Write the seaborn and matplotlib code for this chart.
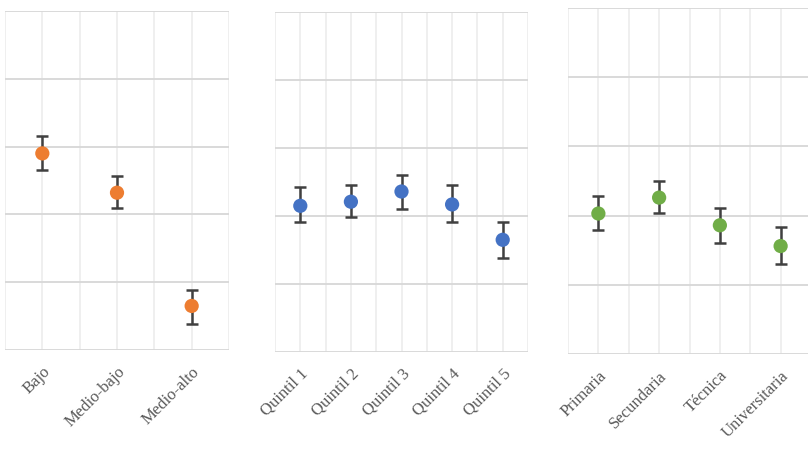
import matplotlib
matplotlib.use("Agg")
import matplotlib.pyplot as plt
import seaborn as sns
import numpy as np
import pandas as pd

# Panel 1: nivel socioeconómico
cat1 = ["Bajo", "Medio-bajo", "Medio-alto"]
val1 = [2.90, 2.32, 0.65]
lo1 = [2.66, 2.09, 0.38]
hi1 = [3.15, 2.56, 0.89]

# Panel 2: quintiles
cat2 = ["Quintil 1", "Quintil 2", "Quintil 3", "Quintil 4", "Quintil 5"]
val2 = [2.15, 2.21, 2.36, 2.17, 1.65]
lo2 = [1.91, 1.99, 2.10, 1.91, 1.38]
hi2 = [2.43, 2.45, 2.61, 2.45, 1.91]

# Panel 3: nivel educativo
cat3 = ["Primaria", "Secundaria", "Técnica", "Universitaria"]
val3 = [2.03, 2.26, 1.86, 1.56]
lo3 = [1.79, 2.04, 1.61, 1.30]
hi3 = [2.29, 2.50, 2.11, 1.84]

colors = ["#ED7D31", "#4472C4", "#70AD47"]

sns.set_theme(style="white")
plt.rcParams["font.family"] = ["Liberation Serif", "DejaVu Serif"]

W, H = 808, 455
fig = plt.figure(figsize=(W / 100, H / 100), dpi=100)

boxes = [
    (5, 229, 11, 350),
    (275, 528, 12, 352),
    (568, 811, 8, 354),
]

panels = [(cat1, val1, lo1, hi1), (cat2, val2, lo2, hi2), (cat3, val3, lo3, hi3)]

for (x0, x1, yt, yb), (cats, vals, los, his), col in zip(boxes, panels, colors):
    ax = fig.add_axes([x0 / W, (H - yb) / H, (x1 - x0) / W, (yb - yt) / H])
    n = len(cats)
    df = pd.DataFrame({"cat": cats, "val": vals, "lo": los, "hi": his})
    xs = np.arange(n)
    # grid
    for gx in np.arange(-0.5, n - 0.5 + 0.01, 0.5):
        ax.axvline(gx, color="#ececec", lw=1.2, zorder=0)
    for gy in range(0, 6):
        ax.axhline(gy, color="#d9d9d9", lw=1.4, zorder=0)
    ax.errorbar(xs, df["val"],
                yerr=[df["val"] - df["lo"], df["hi"] - df["val"]],
                fmt="none", ecolor="#404040", elinewidth=1.8,
                capsize=4.3, capthick=1.8, zorder=2)
    sns.scatterplot(x=xs, y=df["val"], ax=ax, color=col, s=105,
                    edgecolor="none", zorder=3, legend=False)
    ax.set_xlim(-0.5, n - 0.5)
    ax.set_ylim(0, 5)
    ax.set_xticks(xs)
    ax.set_xticklabels(cats, rotation=45, ha="right", rotation_mode="anchor",
                       fontsize=12, color="#595959")
    ax.tick_params(axis="x", length=0, pad=10)
    ax.set_yticks([])
    ax.set_xlabel("")
    ax.set_ylabel("")
    for s in ax.spines.values():
        s.set_visible(False)

fig.savefig("out.png", dpi=100)
